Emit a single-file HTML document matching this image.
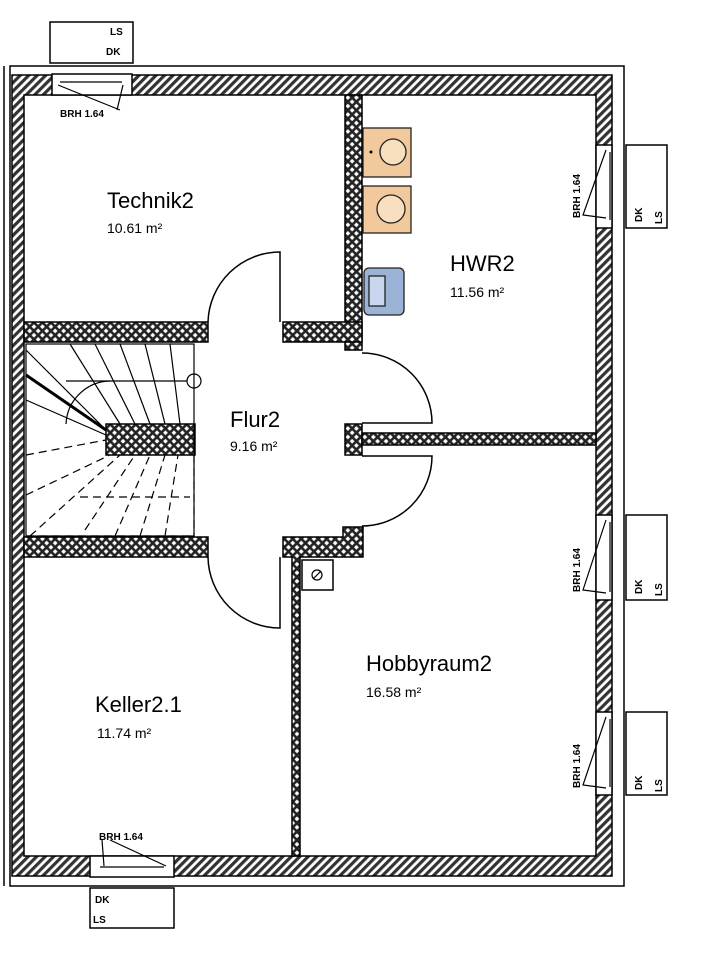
<!DOCTYPE html>
<html><head><meta charset="utf-8"><style>
html,body{margin:0;padding:0;background:#fff;width:706px;height:960px;overflow:hidden}
text{font-family:"Liberation Sans",sans-serif}
</style></head><body>
<svg width="706" height="960" viewBox="0 0 706 960" xmlns="http://www.w3.org/2000/svg">
<defs>
<pattern id="h" width="6" height="6" patternUnits="userSpaceOnUse" patternTransform="rotate(45)">
<rect width="6" height="6" fill="#fff"/><rect width="3.2" height="6" fill="#333"/></pattern>
<pattern id="x" width="6" height="6" patternUnits="userSpaceOnUse" patternTransform="rotate(45)">
<rect width="6" height="6" fill="#222"/><rect x="1.3" y="1.3" width="3.4" height="3.4" fill="#fff"/></pattern>
</defs>
<g stroke="#000" stroke-width="1.5">
<!-- outer lines -->
<rect x="10" y="66" width="614" height="820" fill="none"/>
<line x1="4" y1="66" x2="4" y2="886"/>
<!-- exterior hatched walls -->
<path d="M12 75 H612 V876 H12 Z M24 95 V856 H596 V95 Z" fill="url(#h)" fill-rule="evenodd"/>
<!-- interior crosshatch walls -->
<rect x="345" y="95" width="17" height="255" fill="url(#x)"/>
<rect x="24" y="322" width="184" height="20" fill="url(#x)"/>
<rect x="283" y="322" width="79" height="20" fill="url(#x)"/>
<rect x="24" y="537" width="184" height="20" fill="url(#x)"/>
<path d="M283 537 H343 V527 H363 V557 H300 V856 H292 V557 H283 Z" fill="url(#x)"/>
<rect x="345" y="424" width="17" height="31" fill="url(#x)"/>
<rect x="362" y="433" width="234" height="12" fill="url(#x)"/>
<rect x="106" y="424" width="89" height="31" fill="url(#x)"/>
</g>
<g stroke="#000" stroke-width="1.5" fill="#fff">
<!-- window openings -->
<rect x="52" y="74" width="80" height="21"/>
<rect x="90" y="856" width="84" height="21"/>
<rect x="596" y="145" width="16" height="83"/>
<rect x="596" y="515" width="16" height="85"/>
<rect x="596" y="712" width="16" height="83"/>
<!-- window boxes -->
<rect x="50" y="22" width="83" height="41"/>
<rect x="90" y="888" width="84" height="40"/>
<rect x="626" y="145" width="41" height="83"/>
<rect x="626" y="515" width="41" height="85"/>
<rect x="626" y="712" width="41" height="83"/>
<!-- door arcs -->
<path d="M208 322 A72 72 0 0 1 280 252 V322" fill="none"/>
<path d="M208 557 A72 72 0 0 0 280 628 V557" fill="none"/>
<path d="M362 353 A70 70 0 0 1 432 423 H362" fill="none"/>
<path d="M362 526 A70 70 0 0 0 432 456 H362" fill="none"/>
<rect x="302" y="560" width="31" height="30"/>
</g>
<g stroke="#000" stroke-width="1.2" fill="none">
<line x1="60" y1="82" x2="122" y2="82"/><line x1="100" y1="867" x2="164" y2="867"/>
<line x1="58" y1="85" x2="120" y2="110"/><line x1="123" y1="85" x2="117" y2="110"/>
<line x1="104" y1="866" x2="102" y2="840"/><line x1="166" y1="866" x2="110" y2="840"/>
<line x1="610" y1="152" x2="610" y2="220"/><line x1="610" y1="522" x2="610" y2="592"/><line x1="610" y1="719" x2="610" y2="787"/>
<path d="M606 150 L583 215 L606 218"/><path d="M606 520 L583 590 L606 593"/><path d="M606 717 L583 785 L606 788"/>
<circle cx="317" cy="575" r="5"/><line x1="313" y1="579" x2="321" y2="571"/>
<!-- stairs -->
<rect x="26" y="344" width="168" height="192" stroke-dasharray="none"/>
<circle cx="194" cy="381" r="7"/>
<line x1="66" y1="381" x2="187" y2="381"/>
<path d="M66 424 A45 45 0 0 1 110 381"/>
<path d="M26 375 L106 430" stroke-width="3"/>
<line x1="26" y1="350" x2="106" y2="430"/>
<line x1="70" y1="344" x2="120" y2="424"/>
<line x1="95" y1="344" x2="135" y2="424"/>
<line x1="120" y1="344" x2="150" y2="424"/>
<line x1="145" y1="344" x2="165" y2="424"/>
<line x1="170" y1="344" x2="180" y2="424"/>
<line x1="26" y1="400" x2="106" y2="435"/>
<g stroke-dasharray="8,5">
<line x1="26" y1="455" x2="106" y2="440"/>
<line x1="26" y1="495" x2="110" y2="455"/>
<line x1="30" y1="536" x2="120" y2="455"/>
<line x1="85" y1="530" x2="135" y2="455"/>
<line x1="115" y1="536" x2="150" y2="455"/>
<line x1="140" y1="536" x2="165" y2="455"/>
<line x1="165" y1="536" x2="178" y2="455"/>
<line x1="80" y1="497" x2="190" y2="497"/>
<line x1="194" y1="455" x2="194" y2="536"/>
<line x1="26" y1="536" x2="194" y2="536"/>
</g>
</g>
<!-- fixtures -->
<g stroke="#222" stroke-width="1.3">
<rect x="363" y="128" width="48" height="49" fill="#f2c99c"/>
<rect x="363" y="186" width="48" height="47" fill="#f2c99c"/>
<circle cx="393" cy="152" r="13" fill="#f7dfc0"/>
<circle cx="391" cy="209" r="14" fill="#f7dfc0"/>
<rect x="364" y="268" width="40" height="47" rx="5" fill="#9bb3d6"/>
<rect x="369" y="276" width="16" height="30" fill="#c9d7ee"/>
</g>
<circle cx="371" cy="152" r="1.5" fill="#000"/>
<g fill="#000">
<text x="107" y="208" font-size="22">Technik2</text>
<text x="107" y="233" font-size="14">10.61 m²</text>
<text x="450" y="271" font-size="22">HWR2</text>
<text x="450" y="297" font-size="14">11.56 m²</text>
<text x="230" y="427" font-size="22">Flur2</text>
<text x="230" y="451" font-size="14">9.16 m²</text>
<text x="366" y="671" font-size="22">Hobbyraum2</text>
<text x="366" y="697" font-size="14">16.58 m²</text>
<text x="95" y="712" font-size="22">Keller2.1</text>
<text x="97" y="738" font-size="14">11.74 m²</text>
<g font-size="10" font-weight="bold">
<text x="110" y="35">LS</text><text x="106" y="55">DK</text>
<text x="60" y="117">BRH 1.64</text>
<text x="99" y="840">BRH 1.64</text>
<text x="95" y="903">DK</text><text x="93" y="923">LS</text>
<text transform="translate(580,218) rotate(-90)">BRH 1.64</text>
<text transform="translate(580,592) rotate(-90)">BRH 1.64</text>
<text transform="translate(580,788) rotate(-90)">BRH 1.64</text>
<text transform="translate(642,222) rotate(-90)">DK</text><text transform="translate(662,224) rotate(-90)">LS</text>
<text transform="translate(642,594) rotate(-90)">DK</text><text transform="translate(662,596) rotate(-90)">LS</text>
<text transform="translate(642,790) rotate(-90)">DK</text><text transform="translate(662,792) rotate(-90)">LS</text>
</g></g>
</svg>
</body></html>
